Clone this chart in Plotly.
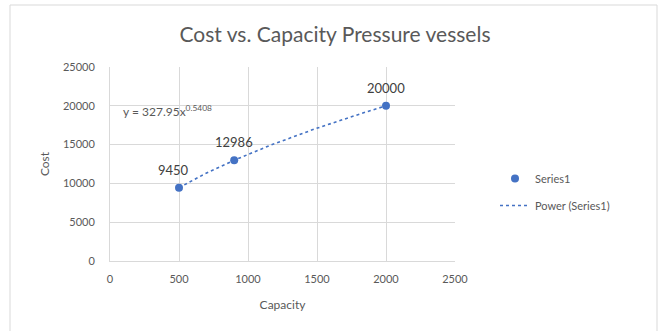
import numpy as np
import plotly.graph_objects as go

# Pressure vessel cost data
capacity = [500, 900, 2000]
cost = [9450, 12986, 20000]
cost_labels = ["9450", "12986", "20000"]

# Power trendline coefficients (y = a * x^b)
coef_a = 327.95
coef_b = 0.5408

x_ticks = [0, 500, 1000, 1500, 2000, 2500]
y_ticks = [0, 5000, 10000, 15000, 20000, 25000]

blue = "#4472C4"
grey_text = "#595959"
grid = "#D9D9D9"
font_family = "Lato, 'Open Sans', sans-serif"

trend_x = np.linspace(min(capacity), max(capacity), 120)
trend_y = coef_a * trend_x ** coef_b

fig = go.Figure()
fig.add_trace(go.Scatter(
    x=capacity, y=cost, mode="markers", name="Series1", legendgroup="a",
    marker=dict(color=blue, size=8),
))
fig.add_trace(go.Scatter(
    x=trend_x, y=trend_y, mode="lines", name="Power (Series1)", legendgroup="b",
    line=dict(color=blue, width=1.6, dash="dot"),
))

# value labels above each point
for cx, cy, lbl in zip(capacity, cost, cost_labels):
    fig.add_annotation(
        x=cx, y=cy, xref="x", yref="y", text=lbl, showarrow=False,
        yanchor="bottom", yshift=8, xshift=-6 if lbl == "9450" else 0,
        font=dict(size=13, color="#404040", family=font_family),
    )

fig.add_annotation(
    x=80, y=19300, xref="x", yref="y", xanchor="left", yanchor="middle",
    text=f"y = {coef_a}x<sup>{coef_b}</sup>", showarrow=False,
    font=dict(size=12, color=grey_text, family=font_family),
)

pw, ph = 345, 194
fig.add_shape(
    type="rect", xref="paper", yref="paper",
    x0=(10 - 110) / pw, x1=(657 - 110) / pw,
    y0=(261 - 340) / ph, y1=(261 - 5) / ph,
    line=dict(color=grid, width=1), fillcolor="rgba(0,0,0,0)", layer="below",
)

fig.update_layout(
    width=662, height=331,
    margin=dict(l=110, r=207, t=67, b=70),
    paper_bgcolor="white", plot_bgcolor="white",
    title=dict(text="Cost vs. Capacity Pressure vessels", x=(335) / 662, xanchor="center",
               y=1 - 35 / 331, yanchor="middle",
               font=dict(size=21, color=grey_text, family=font_family)),
    font=dict(family=font_family, color=grey_text, size=11),
    legend=dict(x=(495 - 110) / pw, y=(261 - 164) / ph, xanchor="left", yanchor="top",
                font=dict(size=11, color=grey_text), bgcolor="rgba(0,0,0,0)",
                tracegroupgap=8),
    showlegend=True,
)
fig.update_xaxes(
    range=[0, 2500], tickvals=x_ticks, ticktext=[str(v) for v in x_ticks],
    showgrid=True, gridcolor=grid, zeroline=False,
    showline=True, linecolor=grid, mirror=False,
    ticks="outside", ticklen=8, tickcolor="rgba(0,0,0,0)",
    title=dict(text="Capacity", font=dict(size=12, color=grey_text), standoff=16),
    tickfont=dict(size=11, color=grey_text),
)
fig.update_yaxes(
    range=[0, 25000], tickvals=y_ticks, ticktext=[str(v) for v in y_ticks],
    showgrid=True, gridcolor=grid, zeroline=False,
    showline=True, linecolor=grid,
    ticks="outside", ticklen=12, tickcolor="rgba(0,0,0,0)",
    title=dict(text="Cost", font=dict(size=12, color=grey_text), standoff=10),
    tickfont=dict(size=11, color=grey_text),
)

fig.write_html("out.html")
